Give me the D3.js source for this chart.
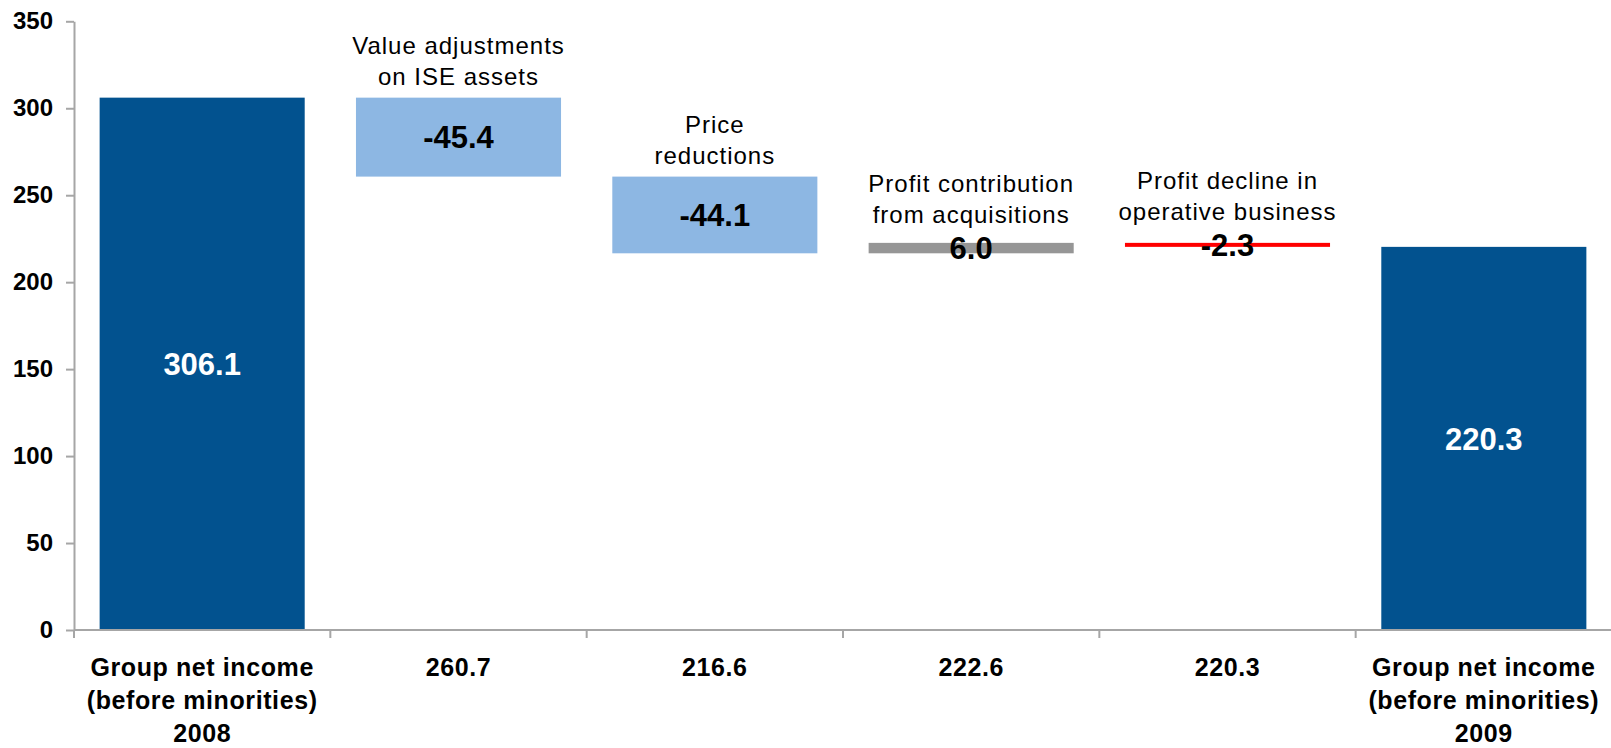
<!DOCTYPE html>
<html>
<head>
<meta charset="utf-8">
<script src="https://cdn.jsdelivr.net/npm/d3@7"></script>
<style>
  body { margin: 0; background: #fff; }
  text { font-family: "Liberation Sans", Arial, sans-serif; }
</style>
</head>
<body>
<div class="viz"></div>
<script>
const width = 1611;
const height = 748;

// data
const categories = ["start", "ise", "price", "acq", "oper", "end"];
const values = [306.1, -45.4, -44.1, 6.0, -2.3, 220.3];
const isTotal = [true, false, false, false, false, true];
const valueLabels = ["306.1", "-45.4", "-44.1", "6.0", "-2.3", "220.3"];
const axisLabels = [
    ["Group net income", "(before minorities)", "2008"],
    ["260.7"],
    ["216.6"],
    ["222.6"],
    ["220.3"],
    ["Group net income", "(before minorities)", "2009"]
];
const notes = [
    [],
    ["Value adjustments", "on ISE assets"],
    ["Price", "reductions"],
    ["Profit contribution", "from acquisitions"],
    ["Profit decline in", "operative business"],
    []
];
const yTicks = [0, 50, 100, 150, 200, 250, 300, 350];

// styles
const barColors = ["#02528F", "#8DB7E3", "#8DB7E3", "#969696", "#FF0000", "#02528F"];
const labelColors = ["#fff", "#000", "#000", "#000", "#000", "#fff"];

// running totals -> bar start / end
let run = 0;
const bars = categories.map((c, i) => {
    let y0, y1;
    if (isTotal[i]) {
        y0 = 0; y1 = values[i]; run = values[i];
    } else {
        y0 = run; y1 = run + values[i]; run = y1;
    }
    return { cat: c, i: i, lo: Math.min(y0, y1), hi: Math.max(y0, y1) };
});

const svg = d3.select(".viz")
    .append("svg")
    .attr("width", width)
    .attr("height", height);

const x = d3.scaleBand()
    .domain(categories)
    .range([74, 1612])
    .paddingInner(0.2)
    .paddingOuter(0.1);

const y = d3.scaleLinear()
    .domain([0, 350])
    .range([630, 21.3]);

const color = d3.scaleOrdinal().domain(categories).range(barColors);
const txtColor = d3.scaleOrdinal().domain(categories).range(labelColors);

// y axis
const yAxis = svg.append("g")
    .attr("transform", "translate(74,0)")
    .call(d3.axisLeft(y).tickValues(yTicks).tickSize(8).tickPadding(13).tickSizeOuter(0));
yAxis.select(".domain").attr("stroke", "#A6A6A6").attr("stroke-width", 2);
yAxis.selectAll(".tick line").attr("stroke", "#A6A6A6").attr("stroke-width", 2);
yAxis.selectAll(".tick text")
    .style("font-size", "24px")
    .style("font-weight", "bold")
    .attr("fill", "#000");

// bars
svg.selectAll(".bar")
    .data(bars)
    .enter()
    .append("rect")
    .attr("class", "bar")
    .attr("x", d => x(d.cat))
    .attr("width", x.bandwidth())
    .attr("y", d => y(d.hi))
    .attr("height", d => y(d.lo) - y(d.hi))
    .attr("fill", d => color(d.cat));

// x axis (drawn over bars)
const half = x.step() * x.paddingInner() / 2;
const boundaries = categories.map(c => x(c) - half).concat([x.range()[1]]);
svg.append("line")
    .attr("x1", x.range()[0]).attr("x2", x.range()[1])
    .attr("y1", y(0)).attr("y2", y(0))
    .attr("stroke", "#A6A6A6").attr("stroke-width", 2);
svg.selectAll(".xtick")
    .data(boundaries)
    .enter()
    .append("line")
    .attr("x1", d => d).attr("x2", d => d)
    .attr("y1", y(0)).attr("y2", y(0) + 8)
    .attr("stroke", "#A6A6A6").attr("stroke-width", 2);

// category labels
const catText = svg.selectAll(".cat")
    .data(bars)
    .enter()
    .append("text")
    .attr("class", "cat")
    .attr("text-anchor", "middle")
    .style("font-size", "25px")
    .style("font-weight", "bold")
    .style("letter-spacing", "0.6px")
    .attr("fill", "#000");
catText.selectAll("tspan")
    .data(d => axisLabels[d.i].map(t => ({ t: t, d: d })))
    .enter()
    .append("tspan")
    .attr("x", o => x(o.d.cat) + x.bandwidth() / 2)
    .attr("y", (o, k) => y(0) + 46 + k * 33)
    .text(o => o.t);

// value labels
svg.selectAll(".val")
    .data(bars)
    .enter()
    .append("text")
    .attr("class", "val")
    .attr("x", d => x(d.cat) + x.bandwidth() / 2)
    .attr("y", d => (y(d.lo) + y(d.hi)) / 2)
    .attr("dy", "0.36em")
    .attr("text-anchor", "middle")
    .style("font-size", "31px")
    .style("font-weight", "bold")
    .attr("fill", d => txtColor(d.cat))
    .text(d => valueLabels[d.i]);

// annotations above the floating bars
const noteText = svg.selectAll(".note")
    .data(bars.filter(d => notes[d.i].length))
    .enter()
    .append("text")
    .attr("class", "note")
    .attr("text-anchor", "middle")
    .style("font-size", "24px")
    .style("letter-spacing", "1px")
    .attr("fill", "#000");
noteText.selectAll("tspan")
    .data(d => {
        const mid = (y(d.lo) + y(d.hi)) / 2;
        const bottom = Math.min(y(d.hi), mid - 12) - 13;
        const lines = notes[d.i];
        return lines.map((t, k) => ({ t: t, d: d, yy: bottom - (lines.length - 1 - k) * 31 }));
    })
    .enter()
    .append("tspan")
    .attr("x", o => x(o.d.cat) + x.bandwidth() / 2)
    .attr("y", o => o.yy)
    .text(o => o.t);
</script>
</body>
</html>
